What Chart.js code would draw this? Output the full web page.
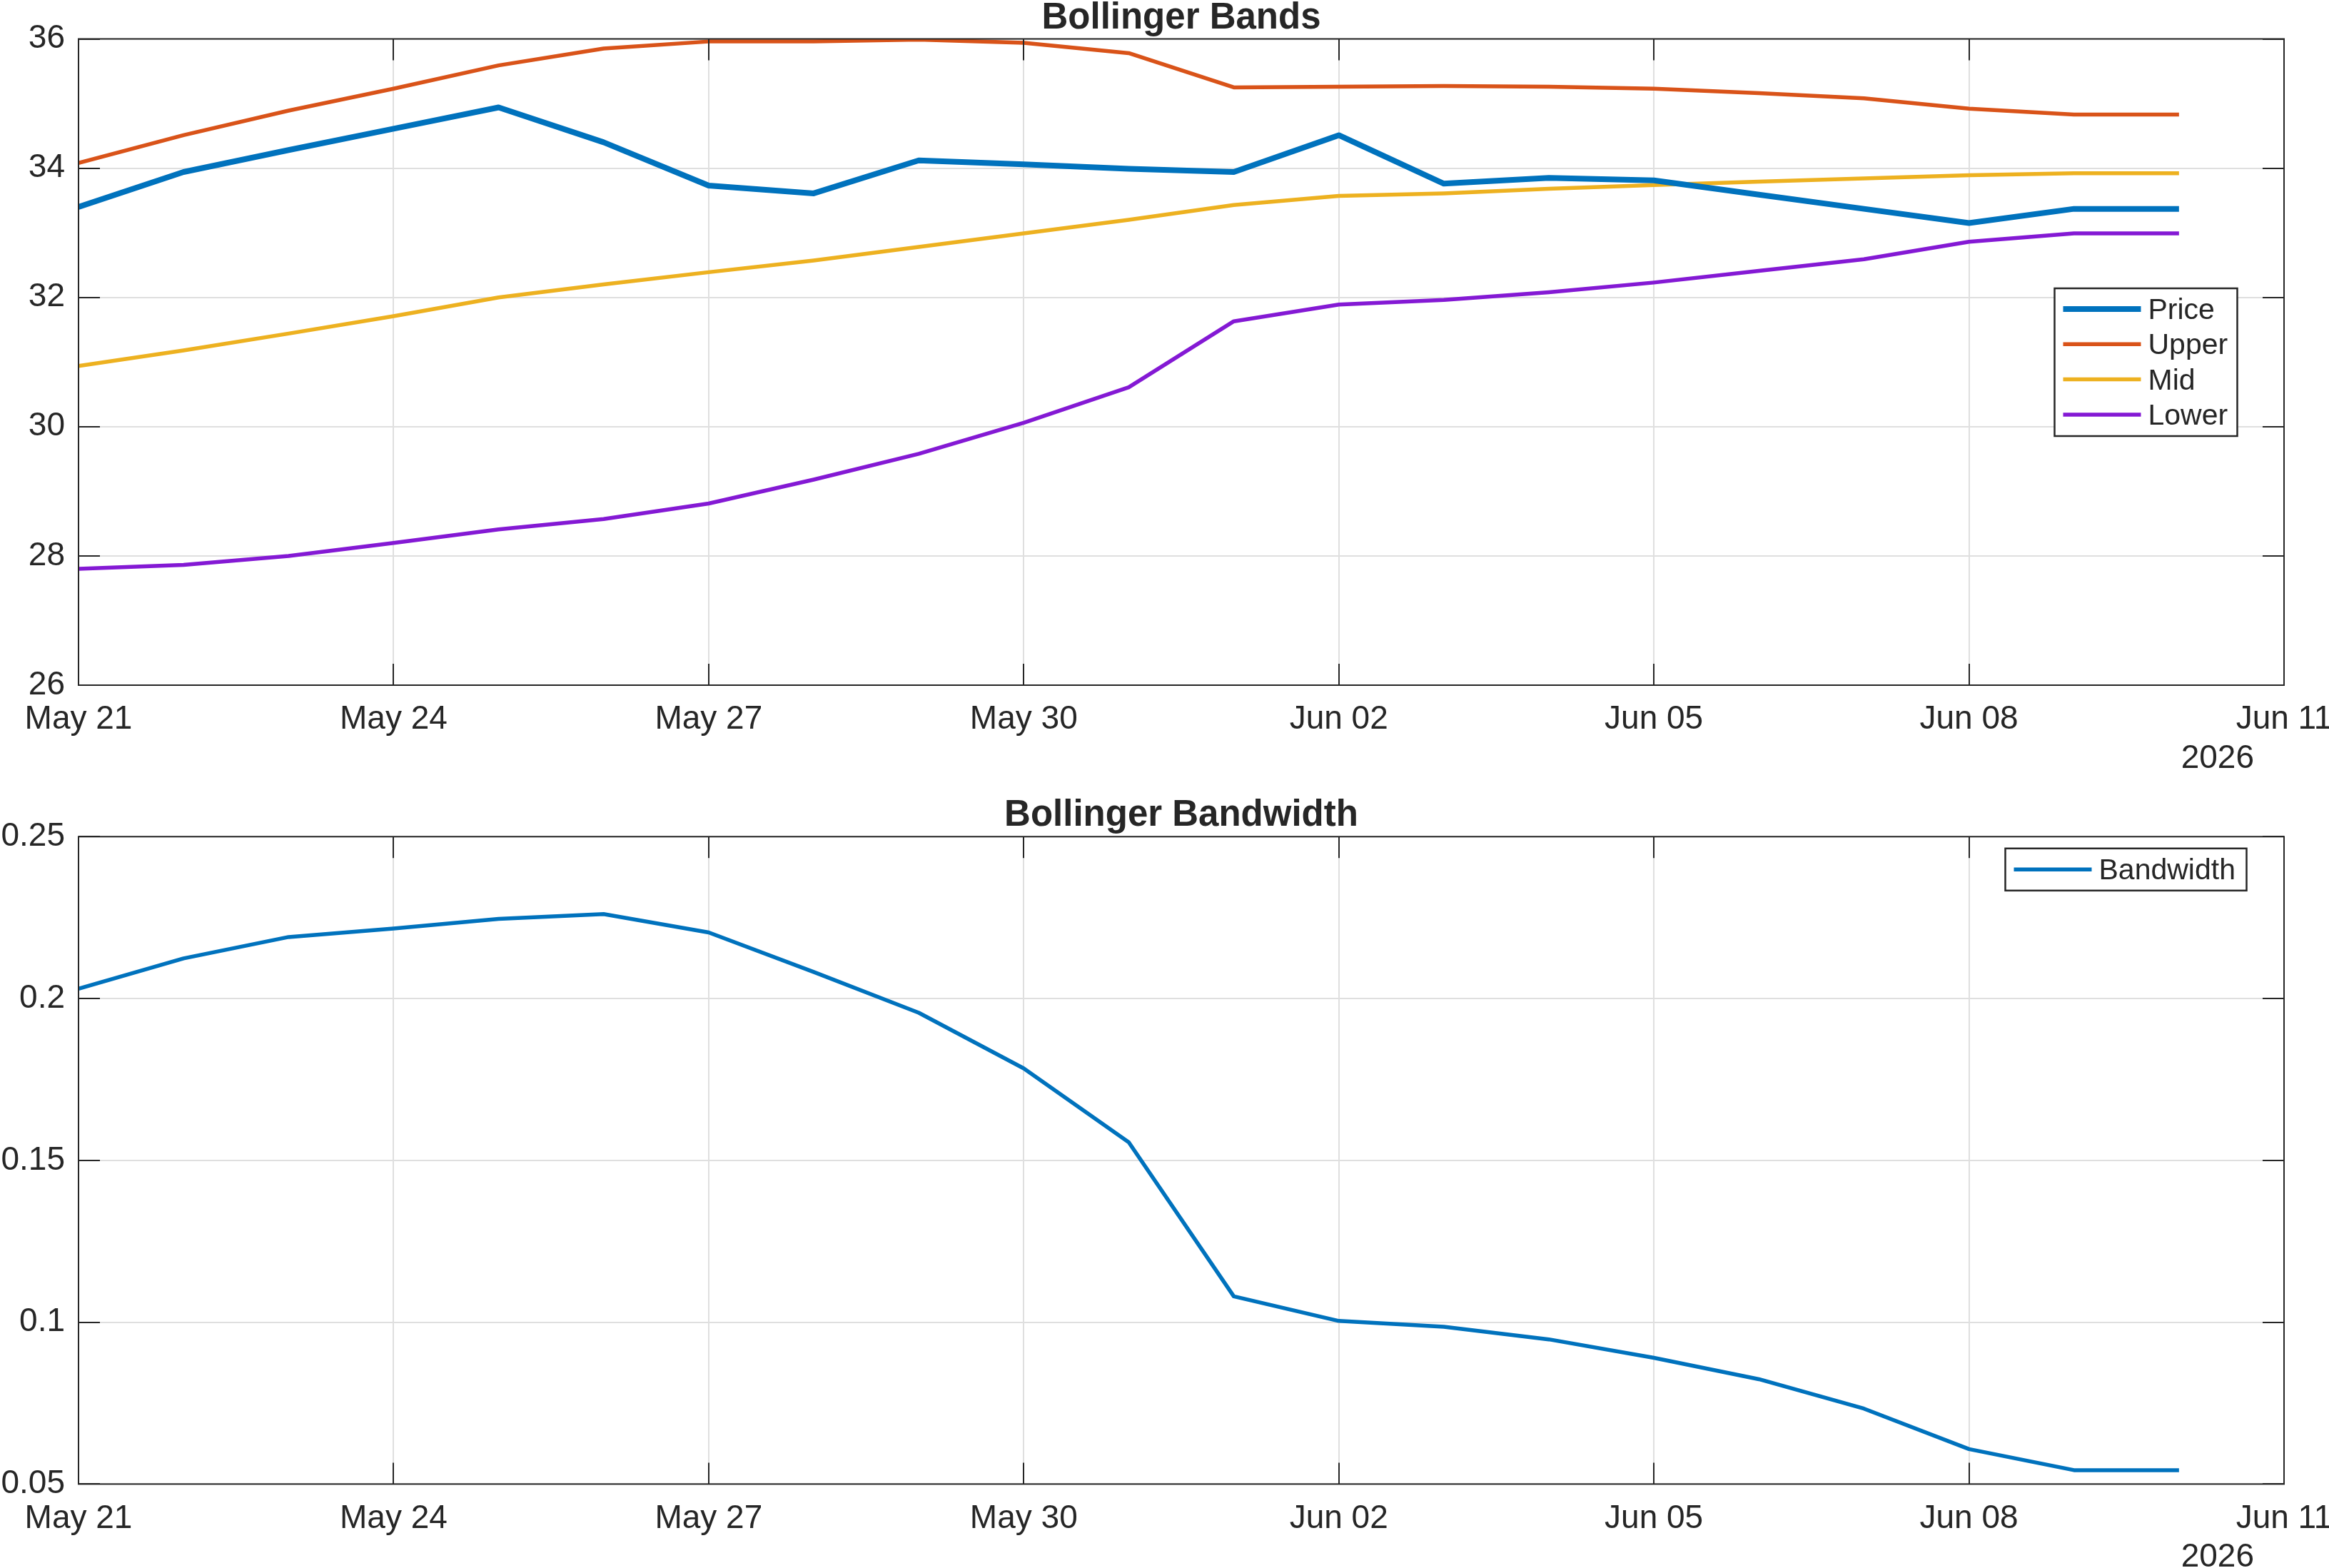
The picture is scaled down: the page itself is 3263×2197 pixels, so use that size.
<!DOCTYPE html>
<html>
<head>
<meta charset="utf-8">
<title>Bollinger Bands</title>
<script src="https://cdn.jsdelivr.net/npm/chart.js@4.4.1/dist/chart.umd.min.js"></script>
<style>
  html, body { margin: 0; padding: 0; background: #fff; overflow: hidden; width: 3263px; height: 2197px; }
  canvas { position: absolute; left: 0; }
  #bands { top: 0; }
  #bandwidth { top: 1090px; }
</style>
</head>
<body>
<canvas id="bands" width="3400" height="1090"></canvas>
<canvas id="bandwidth" width="3400" height="1107"></canvas>
<script>
// Daily data
const dates = ['2026-05-21', '2026-05-22', '2026-05-23', '2026-05-24', '2026-05-25', '2026-05-26', '2026-05-27',
    '2026-05-28', '2026-05-29', '2026-05-30', '2026-05-31', '2026-06-01', '2026-06-02', '2026-06-03',
    '2026-06-04', '2026-06-05', '2026-06-06', '2026-06-07', '2026-06-08', '2026-06-09', '2026-06-10'];
const price = [33.40, 33.94, 34.28, 34.61, 34.94, 34.40, 33.73, 33.61, 34.12, 34.06, 33.99,
    33.94, 34.51, 33.76, 33.85, 33.81, 33.59, 33.37, 33.15, 33.37, 33.37];
const upper = [34.08, 34.51, 34.89, 35.23, 35.59, 35.85, 35.96, 35.96, 35.99, 35.94, 35.78,
    35.25, 35.26, 35.27, 35.26, 35.23, 35.16, 35.08, 34.92, 34.83, 34.83];
const mid = [30.94, 31.18, 31.44, 31.71, 32.00, 32.20, 32.39, 32.57, 32.78, 32.99, 33.20,
    33.43, 33.57, 33.61, 33.68, 33.74, 33.79, 33.84, 33.89, 33.92, 33.92];
const lower = [27.80, 27.86, 28.00, 28.20, 28.41, 28.57, 28.81, 29.18, 29.58, 30.06, 30.61,
    31.63, 31.89, 31.96, 32.08, 32.23, 32.41, 32.59, 32.86, 32.99, 32.99];
const bandwidth = [0.2030, 0.2124, 0.2190, 0.2216, 0.2246, 0.2261, 0.2204, 0.2082, 0.1956, 0.1784, 0.1556,
    0.1080, 0.1004, 0.0986, 0.0947, 0.0890, 0.0824, 0.0733, 0.0608, 0.0543, 0.0543];

// Axis settings
const xTickStep = 3;      // days between date ticks
const xSpanDays = 21;     // May 21 .. Jun 11
const bandTicks = [26, 36, 2];
const widthTicks = [0.05, 0.25, 0.05];

const MONTHS = ['Jan', 'Feb', 'Mar', 'Apr', 'May', 'Jun', 'Jul', 'Aug', 'Sep', 'Oct', 'Nov', 'Dec'];
const DAY = 86400000;
const start = Date.parse(dates[0]);
const dayIndex = dates.map(d => (Date.parse(d) - start) / DAY);
const yearLabel = String(new Date(start).getUTCFullYear());

function dayLabel(v) {
    const d = new Date(start + v * DAY);
    return MONTHS[d.getUTCMonth()] + ' ' + String(d.getUTCDate()).padStart(2, '0');
}

function toPoints(values) {
    return values.map((v, i) => ({ x: dayIndex[i], y: v }));
}

const FONT = '"Liberation Sans", Arial, Helvetica, sans-serif';
const AXIS = '#262626';
const GRID = '#dfdfdf';
const TICK = 30;

Chart.defaults.font.family = FONT;
Chart.defaults.color = AXIS;

// MATLAB-like frame: box, inward ticks, title, legend box, year label
const frame = {
    id: 'frame',
    afterDraw(chart, args, opts) {
        const { ctx, chartArea: a, scales: { x, y } } = chart;
        ctx.save();
        ctx.strokeStyle = AXIS;
        ctx.lineWidth = 2;
        ctx.beginPath();
        x.ticks.forEach(t => {
            const px = Math.round(x.getPixelForValue(t.value));
            ctx.moveTo(px, a.top); ctx.lineTo(px, a.top + TICK);
            ctx.moveTo(px, a.bottom); ctx.lineTo(px, a.bottom - TICK);
        });
        y.ticks.forEach(t => {
            const py = Math.round(y.getPixelForValue(t.value));
            ctx.moveTo(a.left, py); ctx.lineTo(a.left + TICK, py);
            ctx.moveTo(a.right, py); ctx.lineTo(a.right - TICK, py);
        });
        ctx.stroke();
        ctx.strokeRect(a.left, a.top, a.right - a.left, a.bottom - a.top);

        // title
        ctx.fillStyle = AXIS;
        ctx.textBaseline = 'alphabetic';
        ctx.textAlign = 'center';
        ctx.font = 'bold 51px ' + FONT;
        ctx.fillText(opts.title, (a.left + a.right) / 2, a.top - 15);

        // year under the last date tick
        ctx.textAlign = 'right';
        ctx.font = '46px ' + FONT;
        ctx.fillText(yearLabel, a.right - 42, a.bottom + 116);

        // legend
        const lg = opts.legend;
        ctx.fillStyle = '#fff';
        ctx.fillRect(lg.x, lg.y, lg.w, lg.h);
        ctx.lineWidth = 2.5;
        ctx.strokeRect(lg.x, lg.y, lg.w, lg.h);
        ctx.font = '41px ' + FONT;
        ctx.textAlign = 'left';
        chart.data.datasets.forEach((ds, i) => {
            const ry = lg.rowY + i * lg.rowGap;
            ctx.strokeStyle = ds.borderColor;
            ctx.lineWidth = ds.borderWidth;
            ctx.beginPath();
            ctx.moveTo(lg.x + 12, ry);
            ctx.lineTo(lg.x + 121, ry);
            ctx.stroke();
            ctx.fillStyle = AXIS;
            ctx.fillText(ds.label, lg.x + 131, ry + 14);
        });
        ctx.restore();
    }
};

function lineSet(label, values, color, width) {
    return {
        label: label,
        data: toPoints(values),
        borderColor: color,
        backgroundColor: color,
        borderWidth: width,
        pointRadius: 0,
        tension: 0,
        borderJoinStyle: 'round',
        fill: false
    };
}

function makeOptions(yt, yFmt, topPad, xHeight, title, legend) {
    return {
        responsive: false,
        animation: false,
        layout: { padding: { top: topPad, right: 200, bottom: 0, left: 0 } },
        plugins: {
            legend: { display: false },
            tooltip: { enabled: false },
            frame: { title: title, legend: legend }
        },
        scales: {
            x: {
                type: 'linear',
                min: 0,
                max: xSpanDays,
                afterFit: s => { s.height = xHeight; },
                afterBuildTicks: s => {
                    s.ticks = [];
                    for (let v = 0; v <= xSpanDays; v += xTickStep) s.ticks.push({ value: v });
                },
                ticks: {
                    callback: v => dayLabel(v),
                    font: { size: 46 },
                    color: AXIS,
                    padding: 21,
                    maxRotation: 0,
                    autoSkip: false
                },
                grid: { color: GRID, lineWidth: 2, drawTicks: false },
                border: { display: false }
            },
            y: {
                min: yt[0],
                max: yt[1],
                afterFit: s => { s.width = 110; },
                ticks: {
                    stepSize: yt[2],
                    callback: yFmt,
                    font: { size: 46 },
                    color: AXIS,
                    padding: 19
                },
                grid: { color: GRID, lineWidth: 2, drawTicks: false },
                border: { display: false }
            }
        }
    };
}

new Chart(document.getElementById('bands'), {
    type: 'line',
    data: {
        datasets: [
            lineSet('Price', price, '#0072bd', 8),
            lineSet('Upper', upper, '#d95319', 5.5),
            lineSet('Mid', mid, '#edb120', 5.5),
            lineSet('Lower', lower, '#8419d4', 5.5)
        ]
    },
    options: makeOptions(bandTicks, v => String(v), 54.5, 130, 'Bollinger Bands',
        { x: 2878.5, y: 404, w: 256, h: 207, rowY: 433, rowGap: 49.3 }),
    plugins: [frame]
});

new Chart(document.getElementById('bandwidth'), {
    type: 'line',
    data: {
        datasets: [
            lineSet('Bandwidth', bandwidth, '#0072bd', 5.5)
        ]
    },
    options: makeOptions(widthTicks, v => String(+v.toFixed(2)), 82.3, 117.6, 'Bollinger Bandwidth',
        { x: 2809.5, y: 98.8, w: 338, h: 59, rowY: 128.2, rowGap: 0 }),
    plugins: [frame]
});
</script>
</body>
</html>
